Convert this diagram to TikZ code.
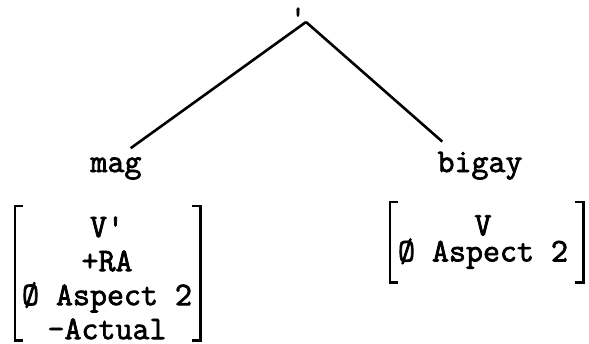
\documentclass[tikz,border=0pt]{standalone}
\usepackage{fontspec}
\setmonofont{Latin Modern Mono}[AutoFakeBold=2.2]
\usetikzlibrary{positioning}

\begin{document}
\begin{tikzpicture}[x=1pt,y=-1pt,
    branch/.style={line width=2.6pt},
    brk/.style={line width=2.6pt},
    word/.style={inner sep=0pt,anchor=base,font=\ttfamily\bfseries\fontsize{33}{34}\selectfont},
    feat/.style={inner sep=0pt,align=center,font=\ttfamily\bfseries\fontsize{33}{#1}\selectfont},
    frame/.style={inner sep=0pt,minimum width=#1}]
  \useasboundingbox (0,0) rectangle (589,343);
  % tree
  \coordinate (top) at (306,22);
  \node[inner sep=0pt,font=\ttfamily\bfseries\fontsize{30}{30}\selectfont] (tick) at (298,17) {'};
  \node[word] (mag) at (116,172) {mag};
  \node[word] (bigay) at (480,172) {bigay};
  \draw[branch] (top) -- ([xshift=-11pt,yshift=9pt]mag.north east);
  \draw[branch] (top) -- ([xshift=5pt,yshift=10pt]bigay.north west);
  % feature matrices
  \node[frame=185pt,minimum height=134pt] (lf) at (107.5,273) {};
  \node[frame=193pt,minimum height=80pt] (rf) at (486.5,242) {};
  \node[feat=34] (lfeat) at (107,278) {V'\\+RA\\Ø Aspect 2\\-Actual};
  \node[feat=26] (rfeat) at (483,242) {V\\Ø Aspect 2};
  \foreach \b in {lf,rf} {
    \draw[brk] ([xshift=8pt]\b.north west) -- (\b.north west) -- (\b.south west) -- ([xshift=8pt]\b.south west);
    \draw[brk] ([xshift=-8pt]\b.north east) -- (\b.north east) -- (\b.south east) -- ([xshift=-8pt]\b.south east);
  }
\end{tikzpicture}
\end{document}
